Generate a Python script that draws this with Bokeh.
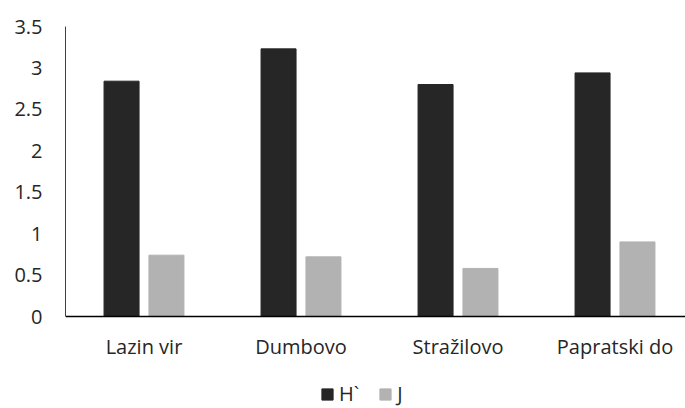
from bokeh.plotting import figure
from bokeh.models import Range1d, FixedTicker, NumeralTickFormatter, Legend, LegendItem, ColumnDataSource
from bokeh.embed import file_html
from bokeh.resources import INLINE

categories = ["Lazin vir", "Dumbovo", "Stražilovo", "Papratski do"]
h_values = [2.84, 3.23, 2.80, 2.94]
j_values = [0.74, 0.72, 0.58, 0.90]
series_names = ["H`", "J"]
y_ticks = [0, 0.5, 1, 1.5, 2, 2.5, 3, 3.5]

FONT = "Open Sans"
H_COLOR = "#262626"
J_COLOR = "#b2b2b2"
TEXT_COLOR = "#262626"

centers = [i + 0.5 for i in range(len(categories))]
offset = 0.143
bar_w = 0.223

src = ColumnDataSource(dict(
    xh=[c - offset for c in centers],
    xj=[c + offset for c in centers],
    h=h_values,
    j=j_values,
))

# frame spans the full lower area; the value axis is drawn from 0 to 3.5 only
p = figure(width=685, height=408, output_backend="svg", toolbar_location=None,
           x_range=Range1d(0, 3.949), y_range=Range1d(-1.1103, 3.5),
           min_border_left=65, min_border_right=0, min_border_top=26, min_border_bottom=0)
p.outline_line_color = None
p.xgrid.visible = False
p.ygrid.visible = False
p.background_fill_color = "white"
p.border_fill_color = "white"

rh = p.vbar(x="xh", top="h", bottom=0, width=bar_w, source=src, fill_color=H_COLOR, line_color=H_COLOR)
rj = p.vbar(x="xj", top="j", bottom=0, width=bar_w, source=src, fill_color=J_COLOR, line_color=J_COLOR)

# category axis at y = 0
p.xaxis.fixed_location = 0
p.xaxis.ticker = FixedTicker(ticks=centers)
p.xaxis.major_label_overrides = {c: lab for c, lab in zip(centers, categories)}
p.xaxis.major_tick_line_color = None
p.xaxis.minor_tick_line_color = None
p.xaxis.axis_line_color = "#000000"
p.xaxis.axis_line_width = 1.5
p.xaxis.major_label_text_font = FONT
p.xaxis.major_label_text_font_size = "20px"
p.xaxis.major_label_text_color = TEXT_COLOR
p.xaxis.major_label_standoff = 10

# value axis
p.yaxis.bounds = (0, 3.5)
p.yaxis.ticker = FixedTicker(ticks=y_ticks)
p.yaxis.formatter = NumeralTickFormatter(format="0.[0]")
p.yaxis.major_tick_line_color = None
p.yaxis.minor_tick_line_color = None
p.yaxis.axis_line_color = "#404040"
p.yaxis.axis_line_width = 1
p.yaxis.major_label_text_font = FONT
p.yaxis.major_label_text_font_size = "20px"
p.yaxis.major_label_text_color = TEXT_COLOR
p.yaxis.major_label_standoff = 17

legend = Legend(items=[LegendItem(label=series_names[0], renderers=[rh]),
                       LegendItem(label=series_names[1], renderers=[rj])],
                location=(255, 1), orientation="horizontal",
                glyph_width=14, glyph_height=14, label_standoff=5, spacing=19,
                label_width=0, label_height=14, padding=0, margin=0,
                border_line_color=None, background_fill_alpha=0,
                label_text_font=FONT, label_text_font_size="20px", label_text_color=TEXT_COLOR)
p.add_layout(legend, "center")

open("out.html", "w").write(file_html(p, INLINE))
